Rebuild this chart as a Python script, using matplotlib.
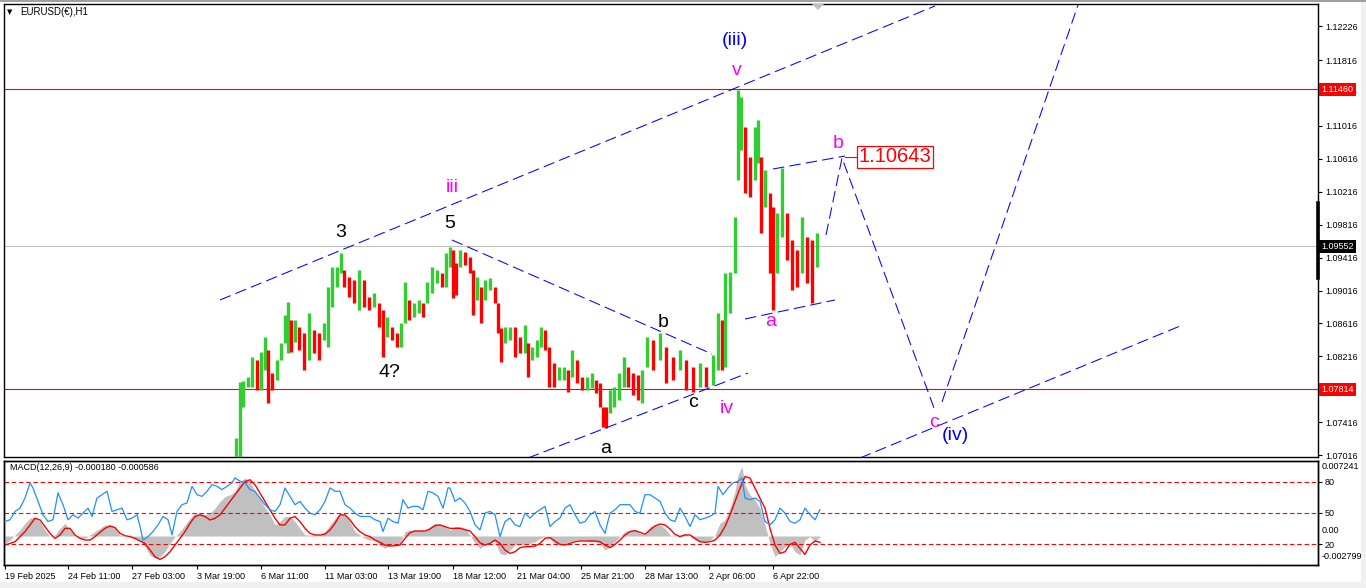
import matplotlib
matplotlib.use("Agg")
import matplotlib.pyplot as plt
from matplotlib.patches import Rectangle, Polygon

plt.rcParams['font.family'] = ['Liberation Sans', 'DejaVu Sans']

# EURUSD H1, bars grouped by a few hours (x = bar number on the chart)
bar_x = [236, 240, 243, 248, 252, 257, 261, 265, 268, 272, 277, 281, 285, 288, 291, 295, 299, 304, 309, 314,
         319, 324, 328, 332, 337, 341, 344, 349, 354, 359, 364, 369, 374, 379, 383, 387, 392, 397, 401, 405,
         409, 414, 419, 423, 427, 432, 437, 442, 446, 450, 453, 456, 460, 465, 470, 473, 477, 481, 485, 490,
         495, 498, 501, 505, 510, 515, 520, 525, 528, 532, 537, 541, 545, 549, 554, 559, 564, 568, 572, 577,
         582, 587, 592, 596, 600, 603, 606, 610, 614, 619, 624, 628, 633, 638, 642, 647, 653, 660, 666, 673,
         680, 686, 693, 700, 706, 713, 718, 722, 725, 730, 735, 738, 741, 745, 750, 755, 758, 761, 765, 770,
         773, 777, 782, 787, 792, 797, 802, 807, 812, 817]
bar_high = [1.07223, 1.07904, 1.07916, 1.07964, 1.08208, 1.08171, 1.08268, 1.08451, 1.08293, 1.08013,
            1.08171, 1.08378, 1.08718, 1.08876, 1.08657, 1.08657, 1.08572, 1.08499, 1.08743, 1.08536,
            1.08499, 1.08621, 1.09059, 1.09302, 1.09302, 1.09472, 1.09265, 1.09180, 1.09144, 1.09265,
            1.09144, 1.08937, 1.08986, 1.08864, 1.08779, 1.08694, 1.08572, 1.08499, 1.08621, 1.09119,
            1.08901, 1.08864, 1.08901, 1.08864, 1.09119, 1.09302, 1.09265, 1.09229, 1.09472, 1.09545,
            1.09508, 1.09350, 1.09508, 1.09484, 1.09423, 1.09265, 1.09180, 1.09059, 1.09144, 1.09168,
            1.09059, 1.08864, 1.08560, 1.08572, 1.08572, 1.08572, 1.08451, 1.08597, 1.08378, 1.08329,
            1.08414, 1.08572, 1.08536, 1.08329, 1.08135, 1.08086, 1.08086, 1.08050, 1.08293, 1.08171,
            1.07964, 1.07964, 1.08013, 1.07928, 1.07892, 1.07600, 1.07600, 1.07806, 1.07843, 1.08013,
            1.08208, 1.08086, 1.08013, 1.07989, 1.08050, 1.08451, 1.08414, 1.08499, 1.08329, 1.08208,
            1.08293, 1.08171, 1.08086, 1.08135, 1.08086, 1.08232, 1.08743, 1.08657, 1.09229, 1.09241,
            1.09910, 1.11454, 1.11369, 1.11004, 1.10639, 1.11004, 1.11089, 1.10639, 1.10481, 1.10201,
            1.10031, 1.09958, 1.10505, 1.09958, 1.09630, 1.09508, 1.09910, 1.09667, 1.09630, 1.09715]
bar_low = [1.06943, 1.06992, 1.07600, 1.07843, 1.07843, 1.07806, 1.07806, 1.08050, 1.07648, 1.07806,
           1.07928, 1.08171, 1.08378, 1.08256, 1.08268, 1.08390, 1.08293, 1.08050, 1.08171, 1.08256,
           1.08171, 1.08414, 1.08329, 1.08816, 1.09059, 1.09229, 1.09059, 1.08937, 1.08864, 1.08779,
           1.08816, 1.08779, 1.08816, 1.08572, 1.08208, 1.08451, 1.08414, 1.08329, 1.08329, 1.08621,
           1.08657, 1.08694, 1.08743, 1.08694, 1.08864, 1.08986, 1.09107, 1.09059, 1.09059, 1.09302,
           1.08925, 1.08961, 1.09302, 1.09326, 1.09229, 1.08718, 1.08901, 1.08621, 1.08901, 1.09022,
           1.08864, 1.08499, 1.08147, 1.08378, 1.08414, 1.08208, 1.08256, 1.08256, 1.07964, 1.08171,
           1.08208, 1.08329, 1.08293, 1.07843, 1.07843, 1.07928, 1.07928, 1.07782, 1.07964, 1.07892,
           1.07806, 1.07806, 1.07831, 1.07770, 1.07600, 1.07357, 1.07344, 1.07527, 1.07600, 1.07685,
           1.07843, 1.07843, 1.07746, 1.07685, 1.07648, 1.08086, 1.08050, 1.08171, 1.07892, 1.07928,
           1.08050, 1.07806, 1.07782, 1.07843, 1.07843, 1.07867, 1.08050, 1.08050, 1.08086, 1.08743,
           1.09229, 1.10360, 1.10724, 1.10201, 1.10153, 1.10360, 1.10566, 1.09715, 1.10031, 1.09229,
           1.08779, 1.09229, 1.09667, 1.09387, 1.09022, 1.09059, 1.09229, 1.09107, 1.08864, 1.09302]

# right price scale (1.11416 sits under the 1.11460 marker, so it is left out)
price_ticks = [1.12226, 1.11816, 1.11016, 1.10616, 1.10216, 1.09816, 1.09416,
               1.09016, 1.08616, 1.08216, 1.07416, 1.07016]
hi_level, lo_level, last_price = 1.11460, 1.07814, 1.09552
target_b = 1.10643

# MACD(12,26,9) histogram and signal
macd_x = list(range(5, 736, 5)) + [738, 742] + list(range(745, 821, 5))
macd_v = [-0.00071, -0.00039, 0.00010, 0.00058, 0.00123, 0.00171, 0.00188, 0.00139, 0.00058, -0.00006,
          0.00010, 0.00074, 0.00123, 0.00058, 0.00010, -0.00023, -0.00023, 0.00010, 0.00042, 0.00074,
          0.00107, 0.00107, 0.00074, 0.00010, 0.00000, -0.00006, -0.00023, -0.00039, -0.00103, -0.00184,
          -0.00217, -0.00200, -0.00152, -0.00071, -0.00006, 0.00042, 0.00107, 0.00171, 0.00220, 0.00220,
          0.00204, 0.00220, 0.00268, 0.00333, 0.00381, 0.00398, 0.00430, 0.00527, 0.00559, 0.00527,
          0.00430, 0.00365, 0.00268, 0.00204, 0.00107, 0.00139, 0.00188, 0.00188, 0.00139, 0.00074,
          0.00010, 0.00010, 0.00010, 0.00010, 0.00042, 0.00107, 0.00171, 0.00220, 0.00204, 0.00139,
          0.00042, 0.00010, -0.00023, -0.00039, -0.00039, -0.00087, -0.00120, -0.00087, -0.00087, -0.00071,
          0.00042, 0.00058, 0.00058, 0.00058, 0.00042, 0.00091, 0.00123, 0.00107, 0.00091, 0.00058,
          0.00091, 0.00091, 0.00074, 0.00010, -0.00071, -0.00120, -0.00087, -0.00055, -0.00055, -0.00168,
          -0.00184, -0.00136, -0.00087, -0.00081, -0.00081, -0.00071, -0.00055, -0.00023, -0.00006, -0.00023,
          -0.00087, -0.00087, -0.00071, -0.00055, -0.00039, -0.00039, -0.00039, -0.00055, -0.00055, -0.00071,
          -0.00136, -0.00103, -0.00055, -0.00006, 0.00042, 0.00058, 0.00058, 0.00026, 0.00010, 0.00091,
          0.00107, 0.00107, 0.00074, 0.00010, -0.00006, 0.00010, 0.00026, -0.00006, -0.00039, -0.00055,
          -0.00055, -0.00039, 0.00010, 0.00123, 0.00155, 0.00268, 0.00430, 0.00592, 0.00672, 0.00495,
          0.00398, 0.00349, 0.00268, 0.00107, -0.00071, -0.00200, -0.00152, -0.00103, -0.00071, -0.00152,
          -0.00184, -0.00039, -0.00006, -0.00055, -0.00006]
sig_x = [5, 15, 25] + list(range(35, 451, 5)) + [460, 470] + list(range(475, 821, 5))
sig_v = [-0.00087, -0.00055, 0.00042,
         0.00171, 0.00155, 0.00091, 0.00026, -0.00023, 0.00010, 0.00074, 0.00074, 0.00010, -0.00023,
         -0.00039, -0.00039, -0.00006, 0.00036, 0.00074, 0.00097, 0.00081, 0.00026, 0.00003, -0.00006,
         -0.00023, -0.00048, -0.00071, -0.00136, -0.00200, -0.00226, -0.00200, -0.00152, -0.00087, -0.00023,
         0.00042, 0.00123, 0.00188, 0.00204, 0.00188, 0.00155, 0.00171, 0.00204, 0.00268, 0.00333,
         0.00398, 0.00462, 0.00527, 0.00543, 0.00495, 0.00414, 0.00333, 0.00252, 0.00171, 0.00107,
         0.00107, 0.00171, 0.00188, 0.00139, 0.00074, 0.00026, 0.00010, 0.00010, 0.00019, 0.00058,
         0.00123, 0.00204, 0.00204, 0.00155, 0.00091, 0.00042, 0.00010, -0.00006, -0.00039, -0.00061,
         -0.00087, -0.00097, -0.00094, -0.00087, -0.00023, 0.00032, 0.00048, 0.00048, 0.00048, 0.00068,
         0.00100, 0.00107, 0.00091, 0.00074,
         0.00074, 0.00048,
         -0.00006, -0.00065, -0.00087, -0.00071, -0.00039, -0.00071, -0.00136, -0.00168, -0.00152, -0.00113,
         -0.00103, -0.00103, -0.00097, -0.00071, -0.00023, -0.00016, -0.00048, -0.00081, -0.00087, -0.00071,
         -0.00055, -0.00048, -0.00048, -0.00048, -0.00048, -0.00055, -0.00087, -0.00113, -0.00081, -0.00039,
         0.00010, 0.00042, 0.00052, 0.00036, 0.00016, 0.00058, 0.00097, 0.00116, 0.00107, 0.00068,
         0.00016, -0.00006, 0.00010, 0.00010, -0.00023, -0.00055, -0.00061, -0.00055, -0.00039, 0.00010,
         0.00091, 0.00204, 0.00333, 0.00462, 0.00575, 0.00559, 0.00462, 0.00365, 0.00268, 0.00074,
         -0.00087, -0.00168, -0.00152, -0.00081, -0.00061, -0.00120, -0.00178, -0.00087, -0.00048, -0.00061]

# oscillator (0-100) drawn in the same window
osc_x = [5, 10, 15, 20, 25, 30, 33, 38, 43, 48, 53, 58, 63, 68, 73, 78, 83, 88, 92, 97,
         102, 107, 112, 117, 122, 127, 132, 137, 140, 143, 148, 153, 158, 163, 168, 172, 177, 182, 187, 192,
         197, 202, 207, 212, 217, 222, 227, 232, 235] + list(range(240, 381, 5)) + \
        [383, 388, 393, 398, 403, 408, 413, 418, 423, 428, 433, 438, 443, 448] + \
        list(range(450, 716, 5)) + [718, 723, 728, 733, 738, 742] + list(range(745, 821, 5))
osc_v = [41.8, 43.5, 51.5, 54.7, 64.4, 78.9, 74.1, 61.2, 48.3, 41.8, 43.5, 69.3, 58.0, 43.5, 48.3, 45.1, 49.9, 54.7, 46.7, 64.4,
         67.6, 70.9, 51.5, 53.1, 54.7, 43.5, 45.1, 48.3, 37.0, 24.1, 27.3, 32.2, 38.6, 46.7, 43.5, 28.9, 51.5, 58.0, 59.6, 75.7,
         67.6, 66.0, 70.9, 77.3, 75.7, 72.5, 75.7, 78.9, 83.8,
         80.5, 78.9, 72.5, 70.9, 64.4, 58.0, 53.1, 51.5, 58.0, 74.1, 66.0, 58.0, 61.2, 54.7, 49.9, 48.3,
         53.1, 61.2, 74.1, 70.9, 70.9, 58.0, 54.7, 49.9, 46.7, 46.7, 46.7, 43.5, 41.8,
         32.2, 45.1, 41.8, 40.2, 62.8, 54.7, 56.4, 56.4, 53.1, 70.9, 69.3, 66.0, 54.7, 74.1,
         74.1, 61.2, 64.4, 59.6, 51.5, 38.6, 33.8, 49.9, 51.5, 48.3, 27.3, 41.8, 45.1, 38.6, 37.0, 49.9, 45.1, 49.9,
         53.1, 56.4, 37.0, 41.8, 45.1, 54.7, 58.0, 48.3, 40.2, 41.8, 48.3, 51.5, 38.6, 30.5, 49.9, 53.1, 58.0, 58.0,
         58.0, 51.5, 49.9, 67.6, 67.6, 64.4, 61.2, 49.9, 43.5, 41.8, 54.7, 46.7, 37.0, 48.3, 43.5, 45.1, 46.7, 49.9,
         75.7, 67.6, 74.1, 78.9, 80.5, 83.8,
         64.4, 62.8, 64.4, 61.2, 41.8, 38.6, 43.5, 54.7, 49.9, 41.8, 40.2, 43.5, 54.7, 48.3, 43.5, 53.1]
osc_levels = [80, 50, 20]

date_pos = [5, 68, 132, 197, 261, 325, 388, 453, 517, 581, 645, 709, 773]
date_labels = ['19 Feb 2025', '24 Feb 11:00', '27 Feb 03:00', '3 Mar 19:00', '6 Mar 11:00', '11 Mar 03:00',
               '13 Mar 19:00', '18 Mar 12:00', '21 Mar 04:00', '25 Mar 21:00', '28 Mar 13:00',
               '2 Apr 06:00', '6 Apr 22:00']

# analyst drawings: (bars, prices)
trend_lines = [
    ([220, 935], [1.08901, 1.12475]),
    ([528, 748], [1.06980, 1.08013]),
    ([452, 712], [1.09630, 1.08244]),
    ([773, 845], [1.10493, 1.10651]),
    ([745, 835], [1.08670, 1.08901]),
    ([826, 842, 934], [1.09691, 1.10627, 1.07588]),
    ([942, 1078], [1.07661, 1.12487]),
    ([860, 1180], [1.06980, 1.08584]),
]
wave_labels = [
    ('(iii)', 735, 1.12001, 'blue'), ('v', 737, 1.11636, 'magenta'), ('iii', 452, 1.10214, 'magenta'),
    ('3', 341, 1.09667, 'black'), ('5', 450, 1.09776, 'black'), ('4?', 389, 1.07964, 'black'),
    ('b', 663, 1.08572, 'black'), ('c', 693, 1.07600, 'black'), ('a', 606, 1.07040, 'black'),
    ('iv', 727, 1.07527, 'magenta'), ('a', 771, 1.08585, 'magenta'), ('b', 838, 1.10749, 'magenta'),
    ('c', 934, 1.07357, 'magenta'), ('(iv)', 955, 1.07198, 'blue'),
]

assert len(bar_x) == len(bar_high) == len(bar_low)
assert len(macd_x) == len(macd_v) and len(sig_x) == len(sig_v) and len(osc_x) == len(osc_v)

W, H = 1366, 588


def px_rect(l, t, r, b):
    return [l / W, 1 - b / H, (r - l) / W, (b - t) / H]


fig = plt.figure(figsize=(W / 100, H / 100), dpi=100, facecolor='white')
fig.patches.append(Rectangle((0, 0), 1, 6 / H, transform=fig.transFigure, fc='#f0f0f0', ec='none'))
fig.patches.append(Rectangle((1361 / W, 0), 5 / W, 1, transform=fig.transFigure, fc='#f0f0f0', ec='none'))
fig.patches.append(Rectangle((0, 1 - 2 / H), 1, 2 / H, transform=fig.transFigure, fc='#a0a0a0', ec='none'))

ax = fig.add_axes(px_rect(4, 4, 1318, 457))
ax2 = fig.add_axes(px_rect(4, 461, 1318, 565))
for a in (ax, ax2):
    a.set_xlim(4, 1318)
    for s in a.spines.values():
        s.set_color('black')
        s.set_linewidth(1.0)
ax.set_ylim(1.06992, 1.12499)

# price bars
cols = []
prev = None
for h, l in zip(bar_high, bar_low):
    mid = (h + l) / 2
    cols.append('#32cd32' if prev is None or mid >= prev else '#ff0000')
    prev = mid
ax.vlines(bar_x, bar_low, bar_high, colors=cols, lw=2.4, zorder=3)

ax.axhline(hi_level, color='red', lw=0.8, zorder=2)
ax.axhline(lo_level, color='red', lw=0.8, zorder=2)
ax.axhline(last_price, color='#c0c0c0', lw=0.8, zorder=2)

for xs, ys in trend_lines:
    ax.plot(xs, ys, color='#0000ff', lw=0.75, dashes=(11, 5), zorder=4)

for txt, bx, py, c in wave_labels:
    ax.text(bx, py, txt, color=c, ha='center', va='baseline', fontsize=14,
            family=['Liberation Sans Narrow', 'Liberation Sans'], zorder=5)

ax.plot([845, 858], [target_b, target_b], color='red', lw=0.8, zorder=4)
ax.text(859, target_b, '1.10643', color='red', ha='left', va='center', fontsize=14.5,
        family=['Liberation Sans Narrow', 'Liberation Sans'], zorder=5,
        bbox=dict(boxstyle='square,pad=0.08', fc='white', ec='red', lw=0.9))

ax.yaxis.tick_right()
ax.set_yticks(price_ticks)
ax.set_yticklabels(['%.5f' % t for t in price_ticks])
ax.tick_params(axis='y', direction='out', length=3, width=0.8, pad=2, labelsize=6.5)
ax.set_xticks([])

for lvl, fc in ((hi_level, '#ff0000'), (lo_level, '#ff0000'), (last_price, '#000000')):
    ax.annotate('%.5f' % lvl, xy=(1, lvl), xycoords=('axes fraction', 'data'), xytext=(2.5, 0),
                textcoords='offset points', ha='left', va='center', color='white', fontsize=6.5,
                annotation_clip=False, zorder=10,
                bbox=dict(boxstyle='square,pad=0.25', fc=fc, ec='none'))
ax.plot([1318, 1318], [1.10080, 1.09168], color='black', lw=2.6, clip_on=False, zorder=6)

ax.text(20, 1.12396, 'EURUSD(€),H1', fontsize=7, ha='left', va='center', color='black')
ax.text(10, 1.12396, '▼', fontsize=5, ha='center', va='center', color='black', family='DejaVu Sans')
fig.patches.append(Polygon([[812 / W, 1 - 4 / H], [824 / W, 1 - 4 / H], [818 / W, 1 - 10 / H]],
                           closed=True, transform=fig.transFigure, fc='#c0c0c0', ec='none'))

# indicator window
ax2.set_ylim(-0.002799, 0.007241)
ax2.fill_between(macd_x, 0, macd_v, color='#c0c0c0', lw=0, zorder=2)
ax2.plot(sig_x, sig_v, color='red', lw=1.0, zorder=3)
ax2.set_yticks([])
ax2.set_xticks(date_pos)
ax2.set_xticklabels(date_labels, ha='left')
ax2.tick_params(axis='x', direction='out', length=3, width=0.8, pad=2, labelsize=6.5)

ax3 = ax2.twinx()
ax3.set_ylim(0, 100)
ax3.set_xlim(4, 1318)
for lv in osc_levels:
    ax3.axhline(lv, color='red', lw=0.8, dashes=(4, 2.5), zorder=1)
ax3.plot(osc_x, osc_v, color='#1e90ff', lw=0.9, zorder=4)
ax3.set_yticks(osc_levels)
ax3.set_yticklabels([str(v) for v in osc_levels])
ax3.tick_params(axis='y', direction='out', length=3, width=0.8, pad=2, labelsize=6.5)
for s in ax3.spines.values():
    s.set_linewidth(1.0)

ax2.annotate('0.007241', xy=(1, 1), xycoords='axes fraction', xytext=(2.5, -1), textcoords='offset points',
             ha='left', va='top', fontsize=6.5, annotation_clip=False)
ax2.annotate('0.00', xy=(1, 0), xycoords=('axes fraction', 'data'), xytext=(2.5, 1), textcoords='offset points',
             ha='left', va='bottom', fontsize=6.5, annotation_clip=False)
ax2.annotate('-0.002799', xy=(1, 0), xycoords='axes fraction', xytext=(2.5, 3), textcoords='offset points',
             ha='left', va='bottom', fontsize=6.5, annotation_clip=False)
ax2.text(10, 0.0066, 'MACD(12,26,9) -0.000180 -0.000586', fontsize=6.5, ha='left', va='center')

fig.savefig('out.png', dpi=100, facecolor='white')
